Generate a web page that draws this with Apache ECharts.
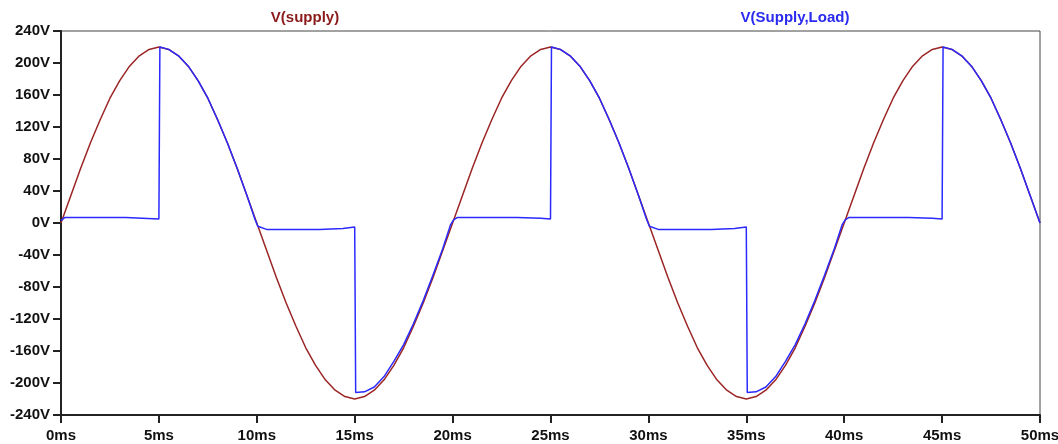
<!DOCTYPE html>
<html>
<head>
<meta charset="utf-8">
<title>V(supply) / V(Supply,Load)</title>
<script src="https://cdn.jsdelivr.net/npm/echarts@6/dist/echarts.min.js"></script>
<style>
  html, body { margin: 0; padding: 0; background: #fff; }
  #chart { width: 1058px; height: 444px; }
</style>
</head>
<body>
<div id="chart"></div>
<script>
// time in ms, voltages in V
var supplyT = [0, 0.5, 1, 1.5, 2, 2.5, 3, 3.5, 4, 4.5, 5, 5.5, 6, 6.5, 7, 7.5, 8, 8.5, 9, 9.5,
  10, 10.5, 11, 11.5, 12, 12.5, 13, 13.5, 14, 14.5, 15, 15.5, 16, 16.5, 17, 17.5, 18, 18.5, 19, 19.5,
  20, 20.5, 21, 21.5, 22, 22.5, 23, 23.5, 24, 24.5, 25, 25.5, 26, 26.5, 27, 27.5, 28, 28.5, 29, 29.5,
  30, 30.5, 31, 31.5, 32, 32.5, 33, 33.5, 34, 34.5, 35, 35.5, 36, 36.5, 37, 37.5, 38, 38.5, 39, 39.5,
  40, 40.5, 41, 41.5, 42, 42.5, 43, 43.5, 44, 44.5, 45, 45.5, 46, 46.5, 47, 47.5, 48, 48.5, 49, 49.5, 50];
var supplyV = [0, 34, 68, 100, 129, 156, 178, 196, 209, 217, 220, 217, 209, 196, 178, 156, 129, 100, 68, 34,
  0, -34, -68, -100, -129, -156, -178, -196, -209, -217, -220, -217, -209, -196, -178, -156, -129, -100, -68, -34,
  0, 34, 68, 100, 129, 156, 178, 196, 209, 217, 220, 217, 209, 196, 178, 156, 129, 100, 68, 34,
  0, -34, -68, -100, -129, -156, -178, -196, -209, -217, -220, -217, -209, -196, -178, -156, -129, -100, -68, -34,
  0, 34, 68, 100, 129, 156, 178, 196, 209, 217, 220, 217, 209, 196, 178, 156, 129, 100, 68, 34, 0];

var loadT = [0, 0.2, 3.3, 3.4, 5.0, 5.05, 5.5, 6, 6.5, 7, 7.5, 8, 8.5, 9, 9.5, 9.9, 10.05, 10.15, 10.5, 13.2, 13.3, 14.4, 14.5, 15.0,
  15.05, 15.5, 16, 16.5, 17, 17.5, 18, 18.5, 19, 19.5, 19.9, 20.05, 20.25, 23.3, 23.4, 24.5, 24.6, 25.0,
  25.05, 25.5, 26, 26.5, 27, 27.5, 28, 28.5, 29, 29.5, 29.9, 30.05, 30.15, 30.5, 33.2, 33.3, 34.4, 34.5, 35.0,
  35.05, 35.5, 36, 36.5, 37, 37.5, 38, 38.5, 39, 39.5, 39.9, 40.05, 40.25, 43.3, 43.4, 44.5, 44.6, 45.0,
  45.05, 45.5, 46, 46.5, 47, 47.5, 48, 48.5, 49, 49.5, 50];
var loadV = [3, 7, 7, 5.5, 5, 220, 217, 209, 196, 178, 156, 129, 100, 68, 34, 5, -4, -5, -8, -8, -7, -7, -5, -5,
  -212, -211, -205, -192, -173, -152, -126, -97, -65, -32, -2, 4, 7, 7, 6, 6, 5, 5,
  220, 217, 209, 196, 178, 156, 129, 100, 68, 34, 5, -4, -5, -8, -8, -7, -7, -5, -5,
  -212, -211, -205, -192, -173, -152, -126, -97, -65, -32, -2, 4, 7, 7, 6, 6, 5, 5,
  220, 217, 209, 196, 178, 156, 129, 100, 68, 34, 0];

var supplyName = 'V(supply)';
var loadName = 'V(Supply,Load)';

function pairs(t, v) {
  var out = [];
  for (var i = 0; i < t.length; i++) out.push([t[i], v[i]]);
  return out;
}

var labelFont = { fontFamily: 'Liberation Sans, Arial, sans-serif', fontWeight: 'bold', fontSize: 15, color: '#111' };

var chart = echarts.init(document.getElementById('chart'));
chart.setOption({
  animation: false,
  backgroundColor: '#fff',
  grid: { left: 61, right: 18, top: 31, bottom: 29, show: true, borderColor: '#444', borderWidth: 1,
    outerBoundsMode: 'none', containLabel: false },
  graphic: [
    { type: 'text', x: 305, y: 18, style: { text: supplyName, fill: '#8b1a1a', font: 'bold 15px "Liberation Sans", Arial, sans-serif', textAlign: 'center', textVerticalAlign: 'middle' } },
    { type: 'text', x: 795, y: 18, style: { text: loadName, fill: '#2a2af0', font: 'bold 15px "Liberation Sans", Arial, sans-serif', textAlign: 'center', textVerticalAlign: 'middle' } }
  ],
  xAxis: {
    type: 'value', min: 0, max: 50, interval: 5,
    axisLine: { show: true, onZero: false, lineStyle: { color: '#222', width: 2 } },
    axisTick: { show: true, length: 8, lineStyle: { color: '#222', width: 2 } },
    axisLabel: Object.assign({ margin: 13, formatter: function (v) { return v + 'ms'; } }, labelFont),
    splitLine: { show: false }
  },
  yAxis: {
    type: 'value', min: -240, max: 240, interval: 40,
    axisLine: { show: true, onZero: false, lineStyle: { color: '#222', width: 2 } },
    axisTick: { show: true, length: 8, lineStyle: { color: '#222', width: 2 } },
    axisLabel: Object.assign({ margin: 11, formatter: function (v) { return v + 'V'; } }, labelFont),
    splitLine: { show: false }
  },
  series: [
    { name: supplyName, type: 'line', data: pairs(supplyT, supplyV), showSymbol: false,
      lineStyle: { color: '#9b2525', width: 1.5 } },
    { name: loadName, type: 'line', data: pairs(loadT, loadV), showSymbol: false,
      lineStyle: { color: '#2a2aff', width: 1.5 } }
  ]
});
</script>
</body>
</html>
